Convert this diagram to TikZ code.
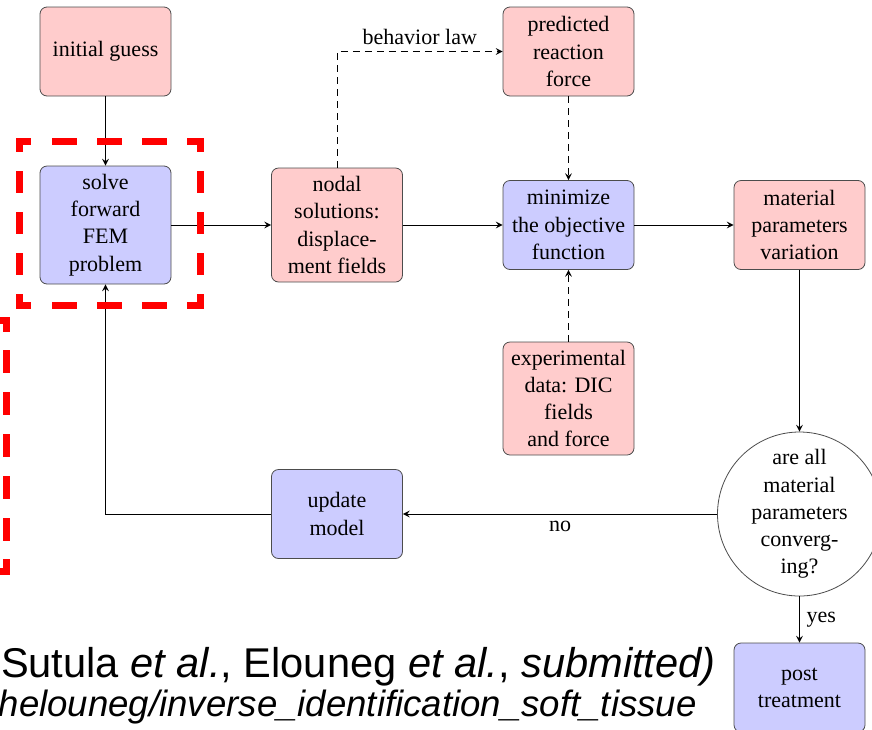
\documentclass[tikz,border=0pt]{standalone}
\usepackage{fontspec}
\setmainfont{Liberation Serif}
\newfontfamily\slidefont{Liberation Sans}
\usetikzlibrary{shapes.geometric, arrows}

\tikzset{
  >=stealth,
  boxfont/.style={font=\fontsize{11}{13.6}\selectfont},
  pinkbox/.style={boxfont, draw=black!70, fill=red!20, rounded corners=3.5pt,
    align=center, minimum width=65.5pt, minimum height=44.5pt, inner sep=2pt},
  bluebox/.style={pinkbox, fill=blue!20},
  decision/.style={boxfont, draw=black!70, circle, align=center,
    minimum size=82pt, inner sep=0pt},
  flow/.style={->, line width=0.5pt},
  dashflow/.style={flow, dash pattern=on 3.5pt off 2.5pt},
  hilite/.style={draw=red, line width=3.5pt, line cap=rect},
  % dashes sized per side so that every corner gets a piece
  longside/.style={hilite, dash pattern=on 8.9pt off 13.7pt, dash phase=4.45pt},
  shortside/.style={hilite, dash pattern=on 7.8pt off 12.7pt, dash phase=3.9pt},
  tallside/.style={hilite, dash pattern=on 8pt off 12.9pt, dash phase=4pt}
}

\begin{document}
\begin{tikzpicture}[x=0.5pt, y=-0.5pt]
    \clip (0,0) rectangle (872,729);

    % boxes
    \node[pinkbox] (init) at (105.5,51.5) {initial guess};
    \node[bluebox, minimum height=59pt] (fem) at (105.5,225) {solve\\forward\\FEM\\problem};
    \node[pinkbox, minimum height=57pt] (nodal) at (337,225) {nodal\\solutions:\\displace-\\ment fields};
    \node[pinkbox] (pred) at (568.5,51.5) {predicted\\reaction\\force};
    \node[bluebox] (mini) at (568.5,225) {minimize\\the objective\\function};
    \node[pinkbox] (matvar) at (799.5,225) {material\\parameters\\variation};
    \node[pinkbox, minimum height=56.5pt] (expdata) at (568.5,398.5) {experimental\\data: DIC\\fields\\and force};
    \node[decision] (conv) at (799.5,514) {are all\\material\\parameters\\converg-\\ing?};
    \node[bluebox] (update) at (337,514) {update\\model};
    \node[bluebox] (post) at (799.5,687.5) {post\\treatment};

    % forward chain
    \draw[flow] (init) -- (fem);
    \draw[flow] (fem) -- (nodal);
    \draw[flow] (nodal) -- (mini);
    \draw[flow] (mini) -- (matvar);
    \draw[flow] (matvar) -- (conv);

    % reaction force and measured data
    \draw[dashflow] (nodal) |- (pred) node[boxfont, pos=0.75, above] {behavior law};
    \draw[dashflow] (pred) -- (mini);
    \draw[dashflow] (expdata) -- (mini);

    % convergence test
    \draw[flow] (conv) -- (update) node[boxfont, midway, below] {no};
    \draw[flow] (update) -| (fem);
    \draw[flow] (conv) -- (post) node[boxfont, midway, right] {yes};

    % highlight frame round the solver
    \draw[longside] (19,141) -- (200,141);
    \draw[longside] (19,305) -- (200,305);
    \draw[shortside] (19,141) -- (19,305);
    \draw[shortside] (200,141) -- (200,305);

    % second frame, mostly off the edge
    \draw[tallside] (6,320) -- (6,571);
    \draw[tallside] (6,320) -- (-80,320);
    \draw[tallside] (6,571) -- (-80,571);

    % reference lines
    \node[anchor=base east, inner sep=0pt, font=\slidefont\fontsize{20.8}{24}\selectfont] (cite) at (716,677)
        {Sutula \textit{et al.}, Elouneg \textit{et al.}, \textit{submitted)}};
    \node[anchor=base east, inner sep=0pt, font=\slidefont\itshape\fontsize{18.3}{22}\selectfont] (repo) at (697,716)
        {helouneg/inverse\_identification\_soft\_tissue};
\end{tikzpicture}
\end{document}
